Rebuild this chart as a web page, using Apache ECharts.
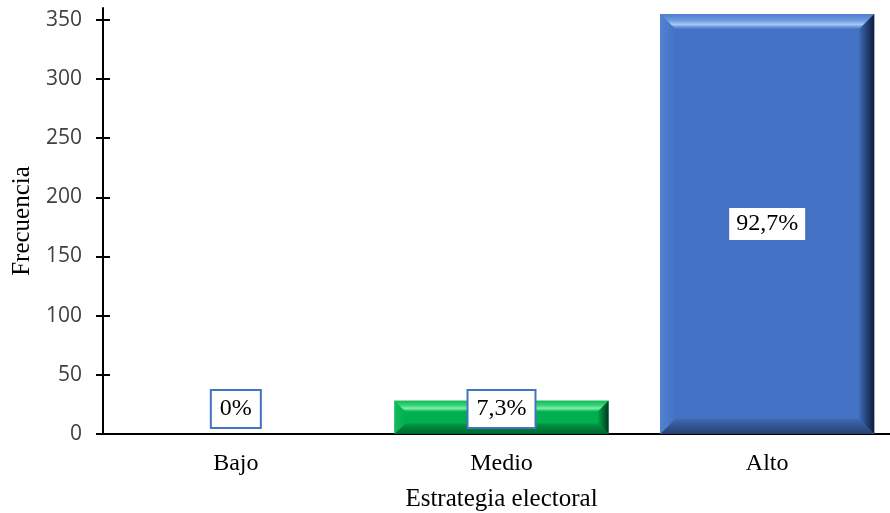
<!DOCTYPE html>
<html>
<head>
<meta charset="utf-8">
<script src="https://cdn.jsdelivr.net/npm/echarts@6/dist/echarts.min.js"></script>
<style>
  html, body { margin: 0; padding: 0; background: #ffffff; }
  #chart { width: 890px; height: 513px; }
</style>
</head>
<body>
<div id="chart"></div>
<script>
// Distribución de frecuencias por nivel de estrategia electoral
const categories = ['Bajo', 'Medio', 'Alto'];
const frecuencias = [0, 28, 355];
const yTicks = [0, 50, 100, 150, 200, 250, 300, 350];

const total = frecuencias.reduce((a, b) => a + b, 0);
function porcentaje(v) {
  const p = v / total * 100;
  return (p === 0 ? '0' : p.toFixed(1).replace('.', ',')) + '%';
}

// Bevel palettes: face, top highlight, left, right shade, bottom shade
const azul = { face: '#4472C4', topEdge: '#4E7CCB', topSoft: '#6F9BE0', topMid: '#A8CCF5', topIn: '#4A78C8',
  left: '#5482D2', rightIn: '#3E69B6', rightOut: '#0E1C38', botIn: '#3F68B2', botOut: '#263F70' };
const verde = { face: '#00B050', topEdge: '#10BA5A', topSoft: '#3CD678', topMid: '#86EEAE', topIn: '#0DB658',
  left: '#12BA5A', rightIn: '#03A349', rightOut: '#00381A', botIn: '#009A45', botOut: '#00622C' };
const palettes = [azul, verde, azul];

const LG = echarts.graphic.LinearGradient;
const serif = '"Liberation Serif", "Times New Roman", serif';

function renderBar(params, api) {
  const idx = api.value(0);
  const v = api.value(1);
  const top = api.coord([idx, v]);
  const base = api.coord([idx, 0]);
  const catW = api.size([1, 0])[0];
  const w = catW * 0.806;
  const x0 = top[0] - w / 2, x1 = top[0] + w / 2;
  const y0 = top[1], y1 = base[1];
  const h = y1 - y0;
  const pal = palettes[idx];
  const children = [];

  if (h > 0.5) {
    const b = Math.min(15, h * 0.32);
    children.push({ type: 'rect', shape: { x: x0, y: y0, width: w, height: h },
      style: { fill: pal.face } });
    // top bevel
    children.push({ type: 'polygon',
      shape: { points: [[x0, y0], [x1, y0], [x1 - b, y0 + b], [x0 + b, y0 + b]] },
      style: { fill: new LG(0, 0, 0, 1, [
        { offset: 0, color: pal.topEdge }, { offset: 0.45, color: pal.topSoft },
        { offset: 0.7, color: pal.topMid }, { offset: 0.85, color: pal.topSoft },
        { offset: 1, color: pal.topIn }]) } });
    // bottom bevel
    children.push({ type: 'polygon',
      shape: { points: [[x0, y1], [x1, y1], [x1 - b, y1 - b], [x0 + b, y1 - b]] },
      style: { fill: new LG(0, 0, 0, 1, [
        { offset: 0, color: pal.botIn }, { offset: 1, color: pal.botOut }]) } });
    // left bevel
    children.push({ type: 'polygon',
      shape: { points: [[x0, y0], [x0 + b, y0 + b], [x0 + b, y1 - b], [x0, y1]] },
      style: { fill: new LG(0, 0, 1, 0, [
        { offset: 0, color: pal.left }, { offset: 1, color: pal.face }]) } });
    // right bevel
    children.push({ type: 'polygon',
      shape: { points: [[x1, y0], [x1 - b, y0 + b], [x1 - b, y1 - b], [x1, y1]] },
      style: { fill: new LG(0, 0, 1, 0, [
        { offset: 0, color: pal.rightIn }, { offset: 1, color: pal.rightOut }]) } });
  }

  // value label in a framed box
  const inside = h > 60;
  children.push({
    type: 'text',
    x: top[0],
    y: inside ? (y0 + y1) / 2 : y1 - 25,
    z2: 20,
    style: {
      text: porcentaje(v),
      fontFamily: serif,
      fontSize: 24,
      fill: '#000000',
      align: 'center',
      verticalAlign: 'middle',
      backgroundColor: '#ffffff',
      borderColor: '#4472C4',
      borderWidth: 2,
      padding: inside ? [4, 7] : [6, 8]
    }
  });
  return { type: 'group', children };
}

const chart = echarts.init(document.getElementById('chart'), null, { renderer: 'canvas' });

chart.setOption({
  animation: false,
  backgroundColor: '#ffffff',
  grid: { left: 103, top: 8, right: -10, bottom: 79, containLabel: false, outerBoundsMode: 'none' },
  xAxis: {
    type: 'category',
    data: categories,
    axisLine: { show: true, lineStyle: { color: '#000000', width: 2 } },
    axisTick: { show: false },
    axisLabel: {
      margin: 18,
      fontFamily: serif,
      fontSize: 24,
      color: '#000000'
    },
    name: 'Estrategia electoral',
    nameLocation: 'middle',
    nameGap: 53,
    nameTextStyle: {
      fontFamily: serif,
      fontSize: 25,
      color: '#000000'
    }
  },
  yAxis: [
    {
      type: 'value',
      min: 0,
      max: 360,
      interval: 50,
      splitLine: { show: false },
      axisLine: { show: true, onZero: false, lineStyle: { color: '#000000', width: 2 } },
      axisTick: { show: true, inside: false, length: 7, customValues: yTicks,
        lineStyle: { color: '#000000', width: 2 } },
      axisLabel: {
        customValues: yTicks,
        margin: 21,
        fontFamily: '"Open Sans", "Liberation Sans", sans-serif',
        fontSize: 21,
        color: '#404040'
      },
      name: 'Frecuencia',
      nameLocation: 'middle',
      nameGap: 68,
      nameTextStyle: {
        fontFamily: serif,
        fontSize: 25,
        color: '#000000'
      }
    },
    {
      type: 'value',
      position: 'left',
      offset: 0,
      min: 0,
      max: 360,
      interval: 50,
      splitLine: { show: false },
      axisLine: { show: false },
      axisLabel: { show: false },
      axisTick: { show: true, inside: true, length: 7, customValues: yTicks,
        lineStyle: { color: '#000000', width: 2 } }
    }
  ],
  series: [{
    type: 'custom',
    renderItem: renderBar,
    encode: { x: 0, y: 1 },
    data: categories.map((c, i) => [i, frecuencias[i]]),
    z: 3
  }]
});
</script>
</body>
</html>
